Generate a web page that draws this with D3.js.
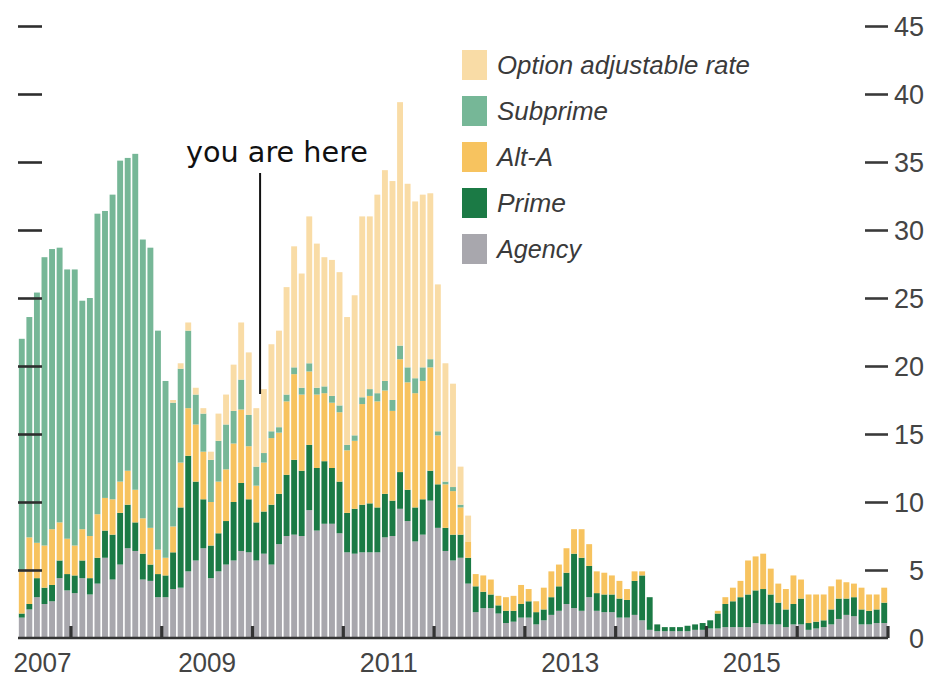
<!DOCTYPE html>
<html>
<head>
<meta charset="utf-8">
<script src="https://cdn.jsdelivr.net/npm/d3@7"></script>
<style>
  html, body { margin: 0; padding: 0; background: #fff; }
  svg { display: block; }
</style>
</head>
<body>
<svg id="chart" width="930" height="679"></svg>
<script>
// Monthly values, June 2007 to December 2016, one row per calendar year
const agency = [
  1.5, 2.1, 3.0, 2.5, 2.7, 4.4, 3.5,                              // 2007 (Jun-Dec)
  3.3, 4.4, 3.2, 4.0, 5.9, 4.3, 5.4, 6.6, 6.4, 4.3, 4.2, 3.0,     // 2008
  3.0, 3.6, 3.7, 4.9, 5.7, 6.6, 4.4, 4.9, 5.4, 5.7, 6.4, 6.3,     // 2009
  5.7, 6.2, 5.4, 6.9, 7.5, 7.6, 7.5, 9.4, 7.9, 8.4, 8.4, 7.7,     // 2010
  6.3, 6.2, 6.3, 6.3, 6.3, 7.4, 7.5, 9.5, 8.6, 7.1, 7.6, 10.1,    // 2011
  8.1, 6.4, 5.7, 5.9, 4.0, 1.9, 2.2, 2.2, 1.8, 1.1, 1.2, 1.5,     // 2012
  1.5, 1.0, 1.3, 1.7, 2.0, 2.5, 2.2, 2.0, 3.0, 2.0, 1.9, 1.9,     // 2013
  1.5, 1.5, 1.7, 1.3, 0.6, 0.5, 0.5, 0.5, 0.5, 0.5, 0.6, 0.6,     // 2014
  0.7, 0.7, 0.8, 0.8, 0.8, 0.8, 1.1, 1.0, 1.0, 1.0, 0.8, 1.0,     // 2015
  1.0, 0.6, 0.7, 0.8, 1.0, 1.4, 1.7, 1.6, 1.0, 1.0, 1.1, 1.1      // 2016
];
const prime = [
  0.3, 0.4, 1.4, 1.2, 1.2, 1.3, 1.2,
  1.3, 1.3, 1.2, 1.9, 2.0, 3.3, 3.8, 3.2, 2.1, 1.9, 1.2, 1.7,
  1.6, 2.7, 5.9, 8.5, 5.8, 3.6, 2.4, 2.8, 3.2, 4.3, 5.0, 3.9,
  2.8, 3.1, 4.4, 3.7, 4.5, 5.5, 4.8, 4.8, 4.6, 4.6, 4.1, 3.8,
  2.9, 3.3, 3.5, 3.6, 3.3, 3.2, 2.6, 2.7, 2.3, 2.5, 2.6, 2.2,
  3.2, 1.7, 1.9, 1.7, 1.9, 1.9, 1.2, 1.0, 0.6, 0.9, 0.8, 1.0,
  1.2, 0.9, 0.8, 1.3, 1.8, 2.3, 4.0, 3.9, 2.3, 1.3, 1.3, 1.3,
  1.4, 1.3, 2.5, 3.3, 2.4, 0.5, 0.3, 0.3, 0.3, 0.4, 0.4, 0.5,
  0.6, 1.1, 1.7, 1.9, 2.2, 2.4, 2.4, 2.6, 2.2, 1.6, 1.3, 1.5,
  1.9, 0.5, 0.5, 0.5, 1.1, 1.5, 1.2, 1.4, 1.1, 1.0, 1.0, 1.5
];
const altA = [
  3.1, 4.9, 2.6, 3.1, 4.1, 2.8, 2.6,
  2.2, 2.3, 3.1, 3.2, 2.4, 2.6, 2.3, 2.5, 2.4, 2.6, 2.7, 1.8,
  1.3, 1.9, 3.3, 3.5, 4.2, 3.5, 3.2, 3.8, 3.8, 4.3, 5.4, 3.9,
  2.7, 3.6, 4.9, 4.5, 5.4, 6.3, 5.6, 5.4, 5.4, 5.0, 4.8, 5.1,
  4.6, 5.0, 7.4, 7.9, 7.8, 7.6, 6.6, 8.3, 7.9, 8.4, 8.7, 7.6,
  3.6, 3.2, 3.2, 2.0, 1.2, 0.9, 1.2, 1.1, 0.7, 1.0, 1.1, 1.4,
  0.9, 0.8, 1.6, 1.9, 1.6, 1.8, 1.8, 2.1, 1.6, 1.6, 1.6, 1.4,
  1.3, 0.8, 0.7, 0.3, 0.0, 0.0, 0.0, 0.0, 0.0, 0.0, 0.0, 0.0,
  0.0, 0.2, 0.5, 1.0, 1.2, 2.5, 2.5, 2.6, 1.9, 1.4, 1.5, 2.1,
  1.4, 2.1, 2.0, 1.9, 1.7, 1.4, 1.2, 1.0, 1.6, 1.2, 1.1, 1.1
];
const subprime = [
  17.1, 16.2, 18.4, 21.2, 20.6, 20.2, 19.8,
  20.3, 16.8, 17.5, 22.1, 21.1, 22.4, 23.6, 23.0, 24.7, 20.5, 20.6, 16.1,
  13.0, 9.1, 6.9, 5.7, 2.2, 2.8, 3.1, 3.0, 3.3, 2.4, 2.2, 2.3,
  1.4, 0.7, 0.5, 0.4, 0.5, 0.5, 0.5, 0.6, 0.5, 0.5, 0.5, 0.5,
  0.4, 0.4, 0.5, 0.5, 0.6, 0.7, 0.8, 1.0, 1.1, 1.1, 1.0, 0.6,
  0.3, 0.2, 0.3, 0.2, 0.0, 0.0, 0.0, 0.0, 0.0, 0.0, 0.0, 0.0,
  0.0, 0.0, 0.0, 0.0, 0.0, 0.0, 0.0, 0.0, 0.0, 0.0, 0.0, 0.0,
  0.0, 0.0, 0.0, 0.0, 0.0, 0.0, 0.0, 0.0, 0.0, 0.0, 0.0, 0.0,
  0.0, 0.0, 0.0, 0.0, 0.0, 0.0, 0.0, 0.0, 0.0, 0.0, 0.0, 0.0,
  0.0, 0.0, 0.0, 0.0, 0.0, 0.0, 0.0, 0.0, 0.0, 0.0, 0.0, 0.0
];
const optionArm = [
  0, 0, 0, 0, 0, 0, 0,
  0, 0, 0, 0, 0, 0, 0, 0, 0, 0, 0, 0,
  0.0, 0.2, 0.4, 0.6, 0.5, 0.4, 0.6, 2.0, 2.2, 3.4, 4.2, 4.6,
  4.3, 4.7, 6.4, 7.1, 7.9, 8.9, 8.4, 10.8, 10.6, 9.5, 10.0, 9.8,
  9.4, 10.3, 13.3, 12.7, 14.6, 15.5, 16.1, 17.9, 13.5, 13.0, 12.7, 12.2,
  10.8, 8.7, 7.6, 2.8, 1.9, 0, 0, 0, 0, 0, 0, 0,
  0, 0, 0, 0, 0, 0, 0, 0, 0, 0, 0, 0,
  0, 0, 0, 0, 0, 0, 0, 0, 0, 0, 0, 0,
  0, 0, 0, 0, 0, 0, 0, 0, 0, 0, 0, 0,
  0, 0, 0, 0, 0, 0, 0, 0, 0, 0, 0, 0
];

// Series, legend labels and colours (legend is listed top-down, stack bottom-up)
const seriesKeys   = ["agency", "prime", "altA", "subprime", "optionArm"];
const seriesLabels = { optionArm: "Option adjustable rate", subprime: "Subprime", altA: "Alt-A", prime: "Prime", agency: "Agency" };
const seriesColors = { optionArm: "#f9dca6", subprime: "#76b797", altA: "#f7c35f", prime: "#1b7a45", agency: "#a8a7ad" };
const legendOrder  = ["optionArm", "subprime", "altA", "prime", "agency"];
const legendWidths = { optionArm: 253, subprime: 111, altA: 56, prime: 69, agency: 84 };

const yTicks     = [0, 5, 10, 15, 20, 25, 30, 35, 40, 45];
const yearLabels = ["2007", "2009", "2011", "2013", "2015"];
const annotation = { text: "you are here", month: "2010-02" };

// Month categories
const months = d3.timeMonth.range(new Date(2007, 5, 1), new Date(2017, 0, 1));
const fmtMonth = d3.timeFormat("%Y-%m");
const monthKeys = months.map(fmtMonth);

const rows = monthKeys.map((m, i) => ({
  month: m,
  agency: agency[i], prime: prime[i], altA: altA[i], subprime: subprime[i], optionArm: optionArm[i]
}));

const svg = d3.select("#chart");
const FONT = "'Liberation Sans', Arial, Helvetica, sans-serif";

const x = d3.scaleBand().domain(monthKeys).range([18, 888]).paddingInner(0.22).paddingOuter(0.11);
const y = d3.scaleLinear().domain([0, 45]).range([638, 26]);
const halfGap = x.step() * x.paddingInner() / 2;
const boundary = m => x(m) - halfGap;

// Stacked bars
const stacked = d3.stack().keys(seriesKeys)(rows);
svg.append("g").attr("class", "bars")
  .selectAll("g").data(stacked).join("g")
    .attr("fill", d => seriesColors[d.key])
  .selectAll("rect").data(d => d).join("rect")
    .attr("x", d => x(d.data.month))
    .attr("width", x.bandwidth())
    .attr("y", d => y(d[1]))
    .attr("height", d => Math.max(0, y(d[0]) - y(d[1])));

// Left-hand dashes (no labels)
const leftAxis = svg.append("g")
  .attr("transform", "translate(42,0)")
  .call(d3.axisLeft(y).tickValues(yTicks.filter(v => v > 0)).tickSize(24).tickFormat(""));
leftAxis.select(".domain").remove();
leftAxis.selectAll(".tick line").attr("stroke", "#2e2e2e").attr("stroke-width", 2.6);

// Right-hand axis: dash plus value
const rightAxis = svg.append("g")
  .attr("transform", "translate(865,0)")
  .call(d3.axisRight(y).tickValues(yTicks).tickSize(23));
rightAxis.select(".domain").remove();
rightAxis.selectAll(".tick line")
  .attr("stroke", "#3a3a3a").attr("stroke-width", 2.6)
  .filter(d => d === 0).remove();
rightAxis.selectAll(".tick text")
  .attr("x", 59).attr("dy", "0.36em")
  .attr("text-anchor", "end")
  .attr("fill", "#444")
  .style("font-family", FONT).style("font-size", "27px");

// Baseline and year ticks
svg.append("line")
  .attr("x1", x.range()[0]).attr("x2", x.range()[1])
  .attr("y1", y(0)).attr("y2", y(0))
  .attr("stroke", "#333").attr("stroke-width", 2.6);

const yearStarts = months.filter(d => d.getMonth() === 0).map(d => boundary(fmtMonth(d)));
yearStarts.push(x.range()[1]);
svg.append("g").selectAll("rect").data(yearStarts).join("rect")
  .attr("x", d => d - 1.6).attr("width", 3.2)
  .attr("y", y(0) - 12).attr("height", 12)
  .attr("fill", "#333");

// Year labels centred on the visible part of each year
svg.append("g").selectAll("text").data(yearLabels).join("text")
  .attr("x", yr => {
    const inYear = monthKeys.filter(m => m.startsWith(yr));
    const x0 = boundary(inYear[0]);
    const x1 = boundary(inYear[inYear.length - 1]) + x.step();
    return (x0 + x1) / 2 - (yr === "2007" ? 2 : 0);
  })
  .attr("y", 672)
  .attr("text-anchor", "middle")
  .attr("fill", "#444")
  .attr("textLength", 58).attr("lengthAdjust", "spacingAndGlyphs")
  .style("font-family", FONT).style("font-size", "28px")
  .text(d => d);

// Legend
const legend = svg.append("g").attr("class", "legend");
const legendItems = legend.selectAll("g").data(legendOrder).join("g")
  .attr("transform", (d, i) => `translate(462,${65 + i * 46})`);
legendItems.append("rect")
  .attr("x", 0).attr("y", -15).attr("width", 25).attr("height", 30)
  .attr("fill", d => seriesColors[d]);
legendItems.append("text")
  .attr("x", 35).attr("y", 0).attr("dy", "0.35em")
  .attr("fill", "#3a3a3a")
  .attr("textLength", d => legendWidths[d]).attr("lengthAdjust", "spacingAndGlyphs")
  .style("font-family", FONT).style("font-size", "26px").style("font-style", "italic")
  .text(d => seriesLabels[d]);

// Annotation
const ax = boundary(annotation.month);
svg.append("text")
  .attr("x", 186).attr("y", 162)
  .attr("fill", "#111")
  .attr("textLength", 182).attr("lengthAdjust", "spacingAndGlyphs")
  .style("font-family", "'DejaVu Sans', Verdana, sans-serif").style("font-size", "29px")
  .text(annotation.text);
svg.append("line")
  .attr("x1", ax).attr("x2", ax)
  .attr("y1", 173).attr("y2", 394)
  .attr("stroke", "#111").attr("stroke-width", 2);
</script>
</body>
</html>
